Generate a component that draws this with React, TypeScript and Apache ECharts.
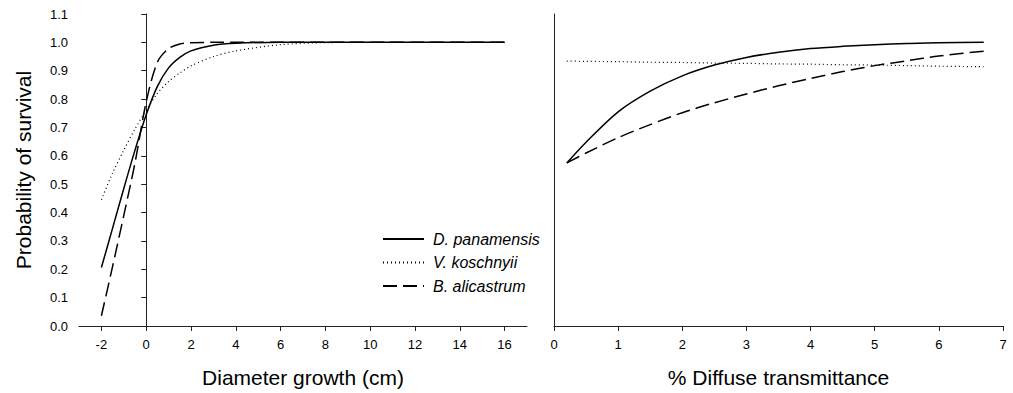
import React, { useEffect, useRef } from "react";
import * as echarts from "echarts";

// Left panel: diameter growth (cm)
const growthX = [-2, -1.5, -1, -0.5, 0, 0.5, 1, 1.5, 2, 3, 4, 6, 8, 10, 12, 16];
const panamensisGrowth = [0.206, 0.345, 0.485, 0.62, 0.745, 0.845, 0.91, 0.947, 0.97, 0.99, 0.997, 1.0, 1.0, 1.0, 1.0, 1.0];
const koschnyiiGrowth = [0.445, 0.54, 0.62, 0.695, 0.76, 0.82, 0.862, 0.892, 0.917, 0.95, 0.97, 0.992, 0.999, 1.0, 1.0, 1.0];
const alicastrumGrowth = [0.036, 0.21, 0.39, 0.575, 0.79, 0.93, 0.978, 0.994, 0.999, 1.0, 1.0, 1.0, 1.0, 1.0, 1.0, 1.0];

// Right panel: % diffuse transmittance
const lightX = [0.2, 0.5, 1, 1.5, 2, 2.5, 3, 3.5, 4, 4.5, 5, 5.5, 6, 6.7];
const panamensisLight = [0.575, 0.648, 0.755, 0.828, 0.882, 0.92, 0.947, 0.965, 0.978, 0.986, 0.992, 0.996, 0.999, 1.0];
const koschnyiiLight = [0.934, 0.933, 0.932, 0.93, 0.929, 0.927, 0.926, 0.924, 0.923, 0.921, 0.92, 0.918, 0.916, 0.914];
const alicastrumLight = [0.575, 0.61, 0.664, 0.71, 0.752, 0.787, 0.818, 0.847, 0.873, 0.897, 0.918, 0.935, 0.952, 0.969];

const speciesNames = ["D. panamensis", "V. koschnyii", "B. alicastrum"];
const growthTicks = [-2, 0, 2, 4, 6, 8, 10, 12, 14, 16];

const FONT = "'Liberation Sans', Arial, sans-serif";
const INK = "#000";
const AXIS = "#222";

const lineStyles: any[] = [
  { type: "solid", width: 1.5, color: INK },
  { type: [1, 3], width: 1.2, color: INK },
  { type: [14, 6], width: 1.5, color: INK },
];

function pairs(xs: number[], ys: number[]) {
  return xs.map((x, i) => [x, ys[i]]);
}

export default function App() {
  const ref = useRef<HTMLDivElement>(null);
  useEffect(() => {
    const chart = echarts.init(ref.current!, null, { renderer: "svg" });
    const growthSeries = [panamensisGrowth, koschnyiiGrowth, alicastrumGrowth];
    const lightSeries = [panamensisLight, koschnyiiLight, alicastrumLight];
    const series: any[] = [];
    speciesNames.forEach((name, i) => {
      series.push({
        name,
        type: "line",
        xAxisIndex: 0,
        yAxisIndex: 0,
        data: pairs(growthX, growthSeries[i]),
        showSymbol: false,
        symbol: "none",
        smooth: 0.3,
        color: INK,
        lineStyle: lineStyles[i],
      });
      series.push({
        name,
        type: "line",
        xAxisIndex: 1,
        yAxisIndex: 1,
        data: pairs(lightX, lightSeries[i]),
        showSymbol: false,
        symbol: "none",
        smooth: 0.3,
        color: INK,
        lineStyle: lineStyles[i],
      });
    });

    const tickLabel = { color: INK, fontSize: 13, fontFamily: FONT };
    const axisLine = { show: true, lineStyle: { color: AXIS, width: 1 } };
    const axisTick = { show: true, length: 5, lineStyle: { color: AXIS, width: 1 } };
    const nameStyle = { color: INK, fontSize: 21, fontFamily: FONT };

    chart.setOption({
      animation: false,
      backgroundColor: "#fff",
      textStyle: { fontFamily: FONT },
      grid: [
        { left: 79, top: 14, width: 448, height: 312 },
        { left: 554, top: 14, width: 449, height: 312 },
      ],
      xAxis: [
        {
          type: "value",
          gridIndex: 0,
          min: -3,
          max: 17,
          name: "Diameter growth (cm)",
          nameLocation: "middle",
          nameGap: 41,
          nameTextStyle: nameStyle,
          axisLine,
          axisTick: { ...axisTick, customValues: growthTicks },
          axisLabel: { ...tickLabel, margin: 12, customValues: growthTicks },
          splitLine: { show: false },
        },
        {
          type: "value",
          gridIndex: 1,
          min: 0,
          max: 7,
          interval: 1,
          name: "% Diffuse transmittance",
          nameLocation: "middle",
          nameGap: 41,
          nameTextStyle: nameStyle,
          axisLine,
          axisTick,
          axisLabel: { ...tickLabel, margin: 12 },
          splitLine: { show: false },
        },
      ],
      yAxis: [
        {
          type: "value",
          gridIndex: 0,
          min: 0,
          max: 1.1,
          interval: 0.1,
          name: "Probability of survival",
          nameLocation: "middle",
          nameGap: 45,
          nameTextStyle: nameStyle,
          axisLine,
          axisTick,
          axisLabel: { ...tickLabel, margin: 11, formatter: (v: number) => v.toFixed(1) },
          splitLine: { show: false },
        },
        {
          type: "value",
          gridIndex: 1,
          min: 0,
          max: 1.1,
          interval: 0.1,
          axisLine,
          axisTick: { show: false },
          axisLabel: { show: false },
          splitLine: { show: false },
        },
      ],
      legend: {
        orient: "vertical",
        left: 382,
        top: 231,
        padding: 0,
        itemWidth: 41,
        itemHeight: 14,
        itemGap: 7.5,
        selectedMode: false,
        data: speciesNames,
        itemStyle: { opacity: 0 },
        textStyle: {
          fontStyle: "italic",
          fontSize: 16,
          color: INK,
          fontFamily: FONT,
          padding: [0, 0, 0, 4],
        },
      },
      series,
    });
    return () => chart.dispose();
  }, []);
  return (
    <div
      ref={ref}
      style={{ position: "fixed", left: 0, top: 0, width: 1013, height: 393, background: "#fff" }}
    />
  );
}
